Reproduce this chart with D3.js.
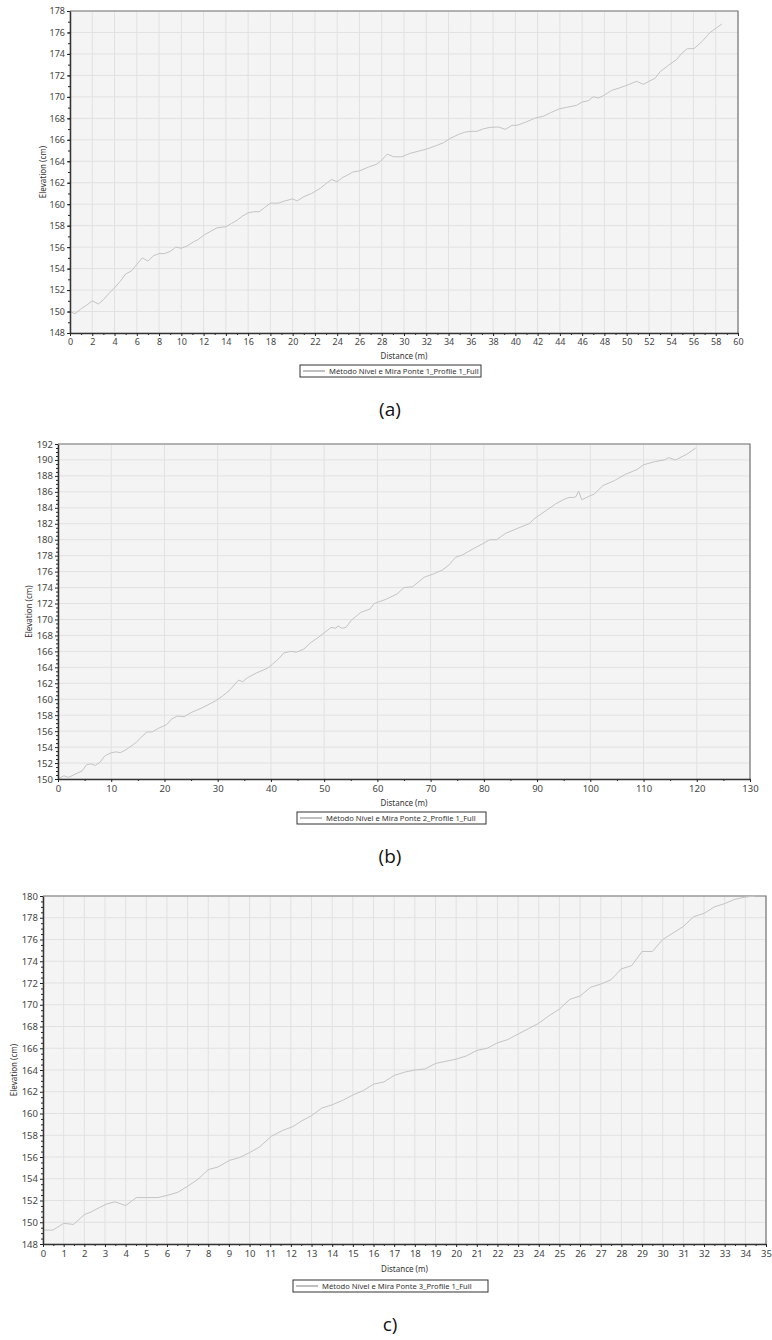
<!DOCTYPE html>
<html><head><meta charset="utf-8">
<script src="https://cdn.jsdelivr.net/npm/d3@7"></script>
<style>
html,body{margin:0;padding:0;background:#fff;}
svg{display:block;}
</style></head>
<body>
<svg id="chart" width="772" height="1340"></svg>
<script>
// ---- Panel (a) data ----
const distA = [0,0.45,1.05,1.5,2.0,2.55,3.0,3.5,4.0,4.5,5.0,5.55,6.0,6.5,7.0,7.5,8.0,8.5,9.0,9.5,10.0,10.5,11.1,11.5,12.0,12.5,13.2,14.0,14.5,15.0,15.5,16.0,16.5,17.0,17.5,18.0,18.7,19.3,20.0,20.4,21.0,21.7,22.5,23.1,23.5,24.0,24.5,24.9,25.4,26.0,26.9,27.5,27.9,28.5,29.05,29.8,30.55,31.45,32.05,32.8,33.55,34.15,34.9,35.5,36.1,36.55,37.15,37.75,38.5,39.1,39.7,40.15,40.9,41.8,42.55,43.15,44.0,44.6,45.5,46.0,46.55,47.0,47.45,47.9,48.65,49.4,50.15,50.9,51.5,52.1,52.55,53.0,53.75,54.5,54.95,55.45,56.05,56.75,57.5,58.1,58.55];
const elevA = [150.0,149.8,150.3,150.6,151.0,150.7,151.1,151.7,152.2,152.8,153.5,153.8,154.4,155.0,154.7,155.2,155.4,155.4,155.6,156.0,155.9,156.1,156.5,156.7,157.1,157.4,157.8,157.9,158.2,158.5,158.9,159.2,159.3,159.3,159.7,160.1,160.1,160.3,160.5,160.3,160.7,161.0,161.5,162.0,162.3,162.1,162.5,162.7,163.0,163.1,163.5,163.7,164.0,164.67,164.42,164.42,164.74,164.98,165.14,165.42,165.73,166.13,166.5,166.72,166.79,166.79,167.03,167.16,167.19,166.97,167.35,167.35,167.63,168.03,168.21,168.52,168.9,169.02,169.21,169.52,169.64,170.01,169.89,170.11,170.6,170.85,171.13,171.45,171.17,171.5,171.73,172.34,172.94,173.5,174.06,174.49,174.49,175.14,176.01,176.45,176.79];
const xTicksA = d3.range(0, 61, 2);
const yTicksA = d3.range(148, 179, 2);
const legendA = "Método Nível e Mira Ponte 1_Profile 1_Full";
const captionA = "(a)";

// ---- Panel (b) data ----
const distB = [0,1.1,2,3.2,4.5,5.4,6.2,7,7.9,8.8,10,10.9,11.7,12.6,13.9,14.7,15.6,16.7,17.7,19,20.4,21.3,22.4,23.7,24.9,27,29.6,30.9,32.2,33.9,34.7,35.6,37.3,39.4,40.3,41.5,42.4,43.7,44.8,46.2,47.5,49.2,51.3,52.2,52.6,53.3,54.1,55.1,56.9,58.6,59.4,61.5,63.7,65,66.6,68.8,70.5,72.2,73.4,74.7,76,78.1,79.8,81.1,82.4,84.1,86.6,88.5,89.6,91.8,93.5,95.2,96,96.9,97.3,97.8,98.4,99.9,100.7,102.4,104.5,106.6,108.8,110,112.2,113.9,114.7,116,118.1,119.8];
const elevB = [150.0,150.4,150.2,150.6,151.0,151.8,151.9,151.7,152.1,152.9,153.3,153.4,153.3,153.6,154.2,154.6,155.2,155.9,155.9,156.4,156.8,157.5,157.9,157.8,158.3,158.9,159.8,160.4,161.1,162.4,162.2,162.7,163.3,163.9,164.4,165.1,165.8,166.0,165.9,166.3,167.1,167.9,169.0,168.9,169.2,168.9,169.0,169.9,170.9,171.3,172.0,172.5,173.2,174.0,174.1,175.3,175.7,176.2,176.8,177.8,178.1,178.9,179.5,180.0,180.0,180.8,181.5,182.0,182.7,183.7,184.5,185.1,185.3,185.3,185.4,186.1,185.0,185.5,185.7,186.8,187.4,188.2,188.8,189.4,189.8,190.0,190.3,190.0,190.7,191.5];
const xTicksB = d3.range(0, 131, 10);
const yTicksB = d3.range(150, 193, 2);
const legendB = "Método Nível e Mira Ponte 2_Profile 1_Full";
const captionB = "(b)";

// ---- Panel (c) data ----
const distC = [0,0.48,1.0,1.48,2.0,2.34,2.74,3.06,3.47,4.0,4.52,5.0,5.56,6.05,6.53,7.0,7.5,8.0,8.47,9.03,9.5,10.0,10.48,11.05,11.6,12.1,12.5,13,13.5,14,14.5,15,15.5,16,16.5,17,17.5,18,18.5,19,19.5,20,20.5,21,21.5,22,22.5,23,23.5,24,24.5,25,25.5,26,26.5,27,27.5,28,28.5,29,29.5,30,30.5,31,31.5,32,32.5,33,33.5,34,34.5];
const elevC = [149.28,149.28,149.9,149.8,150.7,150.96,151.36,151.66,151.88,151.54,152.27,152.27,152.27,152.49,152.76,153.31,153.95,154.84,155.08,155.69,155.94,156.4,156.92,157.9,158.44,158.8,159.3,159.8,160.5,160.8,161.2,161.7,162.1,162.7,162.9,163.5,163.8,164.0,164.1,164.6,164.8,165.0,165.3,165.8,166.0,166.5,166.8,167.3,167.8,168.3,169.0,169.6,170.5,170.8,171.6,171.9,172.3,173.3,173.6,174.9,174.9,176.0,176.6,177.2,178.1,178.4,179.0,179.3,179.7,179.9,180.0];
const xTicksC = d3.range(0, 36, 1);
const yTicksC = d3.range(148, 181, 2);
const legendC = "Método Nível e Mira Ponte 3_Profile 1_Full";
const captionC = "c)";

const svg = d3.select("#chart");
const FONT = "'Noto Sans', 'Open Sans', sans-serif";

function panel(cfg) {
  const g = svg.append("g");
  const x = d3.scaleLinear().domain(cfg.xDomain).range([cfg.left, cfg.right]);
  const y = d3.scaleLinear().domain(cfg.yDomain).range([cfg.bottom, cfg.top]);
  // background
  g.append("rect").attr("x", cfg.left).attr("y", cfg.top)
    .attr("width", cfg.right - cfg.left).attr("height", cfg.bottom - cfg.top)
    .attr("fill", "#f4f4f4");
  // grid
  g.append("g").selectAll("line").data(cfg.xTicks).join("line")
    .attr("x1", d => x(d)).attr("x2", d => x(d))
    .attr("y1", cfg.top).attr("y2", cfg.bottom)
    .attr("stroke", "#e1e1e1").attr("stroke-width", 1);
  g.append("g").selectAll("line").data(cfg.yTicks).join("line")
    .attr("y1", d => y(d)).attr("y2", d => y(d))
    .attr("x1", cfg.left).attr("x2", cfg.right)
    .attr("stroke", "#e1e1e1").attr("stroke-width", 1);
  // frame top & right
  g.append("path")
    .attr("d", `M${cfg.left},${cfg.top}H${cfg.right}V${cfg.bottom}`)
    .attr("fill", "none").attr("stroke", "#777").attr("stroke-width", 1.2);
  // data line
  const pts = cfg.dist.map((d, i) => [d, cfg.elev[i]]);
  g.append("path").datum(pts)
    .attr("d", d3.line().x(d => x(d[0])).y(d => y(d[1])))
    .attr("fill", "none").attr("stroke", "#c4c4c4").attr("stroke-width", 1);
  // minor ticks
  g.append("g").attr("transform", `translate(0,${cfg.bottom})`)
    .call(d3.axisBottom(x).tickValues(cfg.xMinor).tickSize(2).tickFormat(""))
    .call(s => s.select(".domain").remove())
    .selectAll("line").attr("stroke", "#222");
  g.append("g").attr("transform", `translate(${cfg.left},0)`)
    .call(d3.axisLeft(y).tickValues(cfg.yMinor).tickSize(2).tickFormat(""))
    .call(s => s.select(".domain").remove())
    .selectAll("line").attr("stroke", "#222");
  // axes
  const ax = g.append("g").attr("transform", `translate(0,${cfg.bottom})`)
    .call(d3.axisBottom(x).tickValues(cfg.xTicks).tickSize(3).tickSizeOuter(0).tickPadding(3));
  const ay = g.append("g").attr("transform", `translate(${cfg.left},0)`)
    .call(d3.axisLeft(y).tickValues(cfg.yTicks).tickSize(3).tickSizeOuter(0).tickPadding(2));
  [ax, ay].forEach(a => {
    a.select(".domain").attr("stroke", "#333").attr("stroke-width", 1.5);
    a.selectAll(".tick line").attr("stroke", "#222");
    a.selectAll("text").attr("fill", "#444").style("font-family", FONT).style("font-size", cfg.tickFont + "px");
  });
  // axis titles
  g.append("text").attr("x", (cfg.left + cfg.right) / 2).attr("y", cfg.xTitleY)
    .attr("text-anchor", "middle").attr("dominant-baseline", "middle")
    .style("font-family", FONT).style("font-size", "8px").attr("fill", "#333")
    .text("Distance (m)");
  g.append("text")
    .attr("transform", `translate(${cfg.yTitleX},${(cfg.top + cfg.bottom) / 2}) rotate(-90)`)
    .attr("text-anchor", "middle").attr("dominant-baseline", "middle")
    .style("font-family", FONT).style("font-size", "8px").attr("fill", "#333")
    .text("Elevation (cm)");
  // legend
  const lg = g.append("g");
  lg.append("rect").attr("x", cfg.legX).attr("y", cfg.legY)
    .attr("width", cfg.legW).attr("height", 12)
    .attr("fill", "#fff").attr("stroke", "#333").attr("stroke-width", 1);
  lg.append("line").attr("x1", cfg.legX + 3).attr("x2", cfg.legX + 25)
    .attr("y1", cfg.legY + 6).attr("y2", cfg.legY + 6)
    .attr("stroke", "#aaa").attr("stroke-width", 1.5);
  lg.append("text").attr("x", cfg.legX + 29).attr("y", cfg.legY + 6.5)
    .attr("dominant-baseline", "middle")
    .style("font-family", FONT).style("font-size", "7.6px").attr("fill", "#333")
    .text(cfg.legend);
  // caption
  g.append("text").attr("x", 390).attr("y", cfg.capY)
    .attr("text-anchor", "middle").attr("dominant-baseline", "middle")
    .style("font-family", "'Open Sans', sans-serif").style("font-size", "19px").attr("fill", "#111")
    .text(cfg.caption);
}

panel({
  dist: distA, elev: elevA, xTicks: xTicksA, yTicks: yTicksA,
  xMinor: d3.range(1, 60, 2), yMinor: d3.range(149, 178, 1),
  xDomain: [0, 60], yDomain: [148, 178],
  left: 70, right: 738, top: 11, bottom: 333,
  tickFont: 9, xTitleY: 357, yTitleX: 44,
  legX: 300, legY: 365, legW: 181, legend: legendA,
  caption: captionA, capY: 411
});
panel({
  dist: distB, elev: elevB, xTicks: xTicksB, yTicks: yTicksB,
  xMinor: d3.range(5, 130, 10), yMinor: d3.range(150.5, 192, 0.5).filter(v => v % 2 !== 0),
  xDomain: [0, 130], yDomain: [150, 192],
  left: 58, right: 750, top: 444, bottom: 779,
  tickFont: 9.5, xTitleY: 804, yTitleX: 30,
  legX: 297, legY: 812, legW: 189, legend: legendB,
  caption: captionB, capY: 858
});
panel({
  dist: distC, elev: elevC, xTicks: xTicksC, yTicks: yTicksC,
  xMinor: d3.range(0.5, 35, 1), yMinor: d3.range(148.5, 180, 0.5).filter(v => v % 2 !== 0),
  xDomain: [0, 35], yDomain: [148, 180],
  left: 43, right: 766, top: 896, bottom: 1244,
  tickFont: 9.5, xTitleY: 1270, yTitleX: 15,
  legX: 293, legY: 1280, legW: 195, legend: legendC,
  caption: captionC, capY: 1326
});
</script>
</body></html>
